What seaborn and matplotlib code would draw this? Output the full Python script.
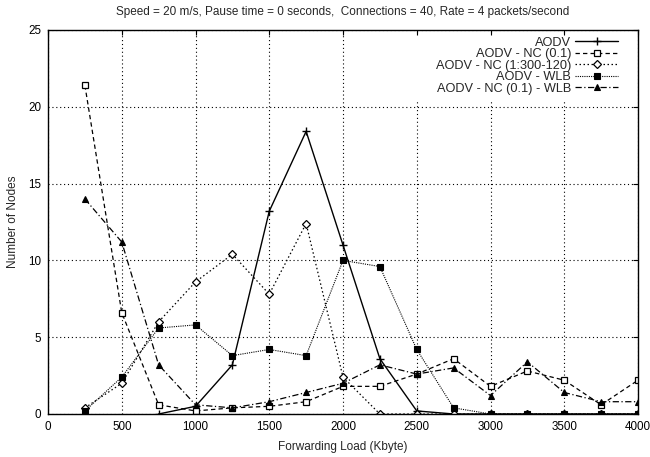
import numpy as np
import pandas as pd
import matplotlib
matplotlib.use("Agg")
import matplotlib.pyplot as plt
from matplotlib.patches import Rectangle
import seaborn as sns

sns.set_theme(style="white")
plt.rcParams["font.family"] = ["Liberation Sans", "DejaVu Sans"]

load_kbyte = [250, 500, 750, 1000, 1250, 1500, 1750, 2000,
              2250, 2500, 2750, 3000, 3250, 3500, 3750, 4000]

aodv = [np.nan, np.nan, 0.0, 0.5, 3.2, 13.2, 18.4, 11.0,
        3.6, 0.2, 0.0, 0.0, 0.0, 0.0, 0.0, 0.0]
aodv_nc = [21.4, 6.6, 0.6, 0.2, 0.4, 0.5, 0.8, 1.8,
           1.8, 2.6, 3.6, 1.8, 2.8, 2.2, 0.6, 2.2]
aodv_nc_300 = [0.4, 2.0, 6.0, 8.6, 10.4, 7.8, 12.4, 2.4,
               0.0, 0.0, 0.0, 0.0, 0.0, 0.0, 0.0, 0.0]
aodv_wlb = [0.2, 2.4, 5.6, 5.8, 3.8, 4.2, 3.8, 10.0,
            9.6, 4.2, 0.4, 0.0, 0.0, 0.0, 0.0, 0.0]
aodv_nc_wlb = [14.0, 11.2, 3.2, 0.6, 0.4, 0.8, 1.4, 2.0,
               3.2, 2.6, 3.0, 1.2, 3.4, 1.4, 0.8, 0.8]

series_names = ["AODV", "AODV - NC (0.1)", "AODV - NC (1:300-120)",
                "AODV - WLB", "AODV - NC (0.1) - WLB"]
series_values = [aodv, aodv_nc, aodv_nc_300, aodv_wlb, aodv_nc_wlb]

title_text = ("Speed = 20 m/s, Pause time = 0 seconds,  Connections = 40, "
              "Rate = 4 packets/second")
x_label = "Forwarding Load (Kbyte)"
y_label = "Number of Nodes"

styles = {
    "AODV": dict(linestyle="-", marker="+", markersize=5.5, mew=1.0,
                 mfc="black", lw=1.0),
    "AODV - NC (0.1)": dict(linestyle=(0, (3.5, 2.5)), marker="s",
                            markersize=5, mew=0.9, mfc="white", lw=0.9),
    "AODV - NC (1:300-120)": dict(linestyle=(0, (1.2, 2.0)), marker="D",
                                  markersize=3.8, mew=0.9, mfc="white", lw=0.9),
    "AODV - WLB": dict(linestyle=(0, (1.0, 1.0)), marker="s", markersize=4.8,
                       mew=0.8, mfc="black", lw=0.8),
    "AODV - NC (0.1) - WLB": dict(linestyle=(0, (5, 2, 1, 2)), marker="^",
                                  markersize=4.2, mew=0.8, mfc="black", lw=0.9),
}

fig = plt.figure(figsize=(6.5, 4.57), dpi=100)
ax = fig.add_axes([48 / 650, 43 / 457, 590 / 650, 384 / 457])

for name, vals in zip(series_names, series_values):
    df = pd.DataFrame({"load": load_kbyte, "nodes": vals})
    st = styles[name]
    sns.lineplot(data=df, x="load", y="nodes", ax=ax, color="black",
                 mec="black", label=name, **st)

ax.set_xlim(0, 4000)
ax.set_ylim(0, 25)
ax.set_xticks(np.arange(0, 4001, 500))
ax.set_yticks(np.arange(0, 26, 5))
ax.grid(True, color="black", linestyle=(0, (1.0, 2.5)), linewidth=0.8)
ax.tick_params(direction="in", length=3.5, width=0.8, top=True, right=True,
               labelsize=8.4, colors="black", pad=5)
for sp in ax.spines.values():
    sp.set_color("black")
    sp.set_linewidth(1.0)

# blank key area so the grid does not run through the legend
ax.add_patch(Rectangle((0.597, 0.818), 0.392, 0.166, transform=ax.transAxes,
                       facecolor="white", edgecolor="none", zorder=1.6))

ax.set_xlabel(x_label, fontsize=8.5, labelpad=6)
ax.set_ylabel(y_label, fontsize=8.5, labelpad=6.5)
ax.set_title(title_text, fontsize=8.5, pad=11)

leg = ax.legend(loc="upper right", bbox_to_anchor=(0.971, 0.989),
                frameon=False, markerfirst=False,
                fontsize=9.2, handlelength=3.4, labelspacing=-0.04,
                handletextpad=0.3, borderaxespad=0.0, borderpad=0.2)
for col in leg._legend_handle_box.get_children():
    col.align = "right"

fig.savefig("out.png", dpi=100)
